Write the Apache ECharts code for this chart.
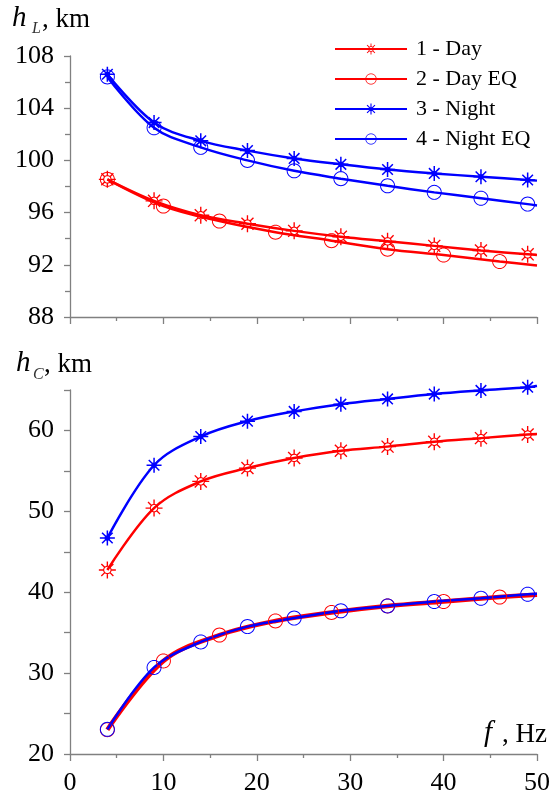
<!DOCTYPE html>
<html><head><meta charset="utf-8">
<script src="https://cdn.jsdelivr.net/npm/echarts@6/dist/echarts.min.js"></script>
<style>html,body{margin:0;padding:0;background:#fff}#c{width:560px;height:800px}</style>
</head><body><div id="c"></div>
<script>
// frequencies (Hz)
const freqStar = [4, 9, 14, 19, 24, 29, 34, 39, 44, 49];
const freqDayEQ = [4, 10, 16, 22, 28, 34, 40, 46];
const freqNightEQ = [4, 9, 14, 19, 24, 29, 34, 39, 44, 49];
const freqEnd = 50;

// top panel: h_L, km
const hL_day = [98.55, 96.9, 95.8, 95.15, 94.6, 94.15, 93.8, 93.45, 93.1, 92.8];
const hL_dayEnd = 92.75;
const hL_dayEQ = [98.55, 96.5, 95.35, 94.5, 93.85, 93.2, 92.75, 92.25];
const hL_dayEQEnd = 91.95;
const hL_night = [106.6, 102.9, 101.5, 100.75, 100.15, 99.7, 99.3, 99.0, 98.75, 98.5];
const hL_nightEnd = 98.45;
const hL_nightEQ = [106.4, 102.5, 101.0, 100.0, 99.2, 98.6, 98.05, 97.55, 97.1, 96.65];
const hL_nightEQEnd = 96.55;

// bottom panel: h_C, km
const hC_day = [42.75, 50.4, 53.7, 55.35, 56.6, 57.5, 58.0, 58.6, 59.05, 59.5];
const hC_dayEnd = 59.55;
const hC_dayEQ = [23.0, 31.5, 34.7, 36.45, 37.5, 38.3, 38.85, 39.4];
const hC_dayEQEnd = 39.7;
const hC_night = [46.7, 55.7, 59.25, 61.15, 62.35, 63.25, 63.9, 64.5, 64.95, 65.35];
const hC_nightEnd = 65.5;
const hC_nightEQ = [23.05, 30.7, 33.85, 35.75, 36.8, 37.7, 38.3, 38.85, 39.25, 39.75];
const hC_nightEQEnd = 39.8;

const seriesNames = ['1 - Day', '2 - Day EQ', '3 - Night', '4 - Night EQ'];
const xTickLabels = [0, 10, 20, 30, 40, 50];
const yTickLabelsTop = [88, 92, 96, 100, 104, 108];
const yTickLabelsBottom = [20, 30, 40, 50, 60];

// ---- symbol paths ----
function f2(v){ return (Math.round(v*100)/100).toString(); }
function ray(a, r1, r2, w){
  const ux=Math.cos(a), uy=Math.sin(a), nx=-uy, ny=ux;
  const p=[[r1*ux+w*nx, r1*uy+w*ny],[r2*ux+w*nx, r2*uy+w*ny],[r2*ux-w*nx, r2*uy-w*ny],[r1*ux-w*nx, r1*uy-w*ny]];
  return 'M'+p.map(q=>f2(q[0])+' '+f2(q[1])).join(' L')+' Z ';
}
function poly(r, n, dir){
  let s='';
  for(let i=0;i<n;i++){
    const a = dir*2*Math.PI*i/n;
    s += (i===0?'M':' L')+f2(r*Math.cos(a))+' '+f2(r*Math.sin(a));
  }
  return s+' Z ';
}
const angles = [0, Math.PI/4, Math.PI/2, 3*Math.PI/4, Math.PI, 5*Math.PI/4, 3*Math.PI/2, 7*Math.PI/4];
let dayStar = '';
angles.forEach(a=>{ dayStar += ray(a, 4.0, 10, 0.8); });
dayStar += poly(5.0, 28, -1) + poly(3.7, 28, 1);
let nightStar = '';
[0, Math.PI/4, Math.PI/2, 3*Math.PI/4].forEach(a=>{ nightStar += ray(a, -10, 10, 1.0); });
nightStar += poly(3.8, 24, -1);
const ring = poly(10, 36, -1) + poly(8.7, 36, 1);

const SYM_DAY = 'path://' + dayStar;
const SYM_NIGHT = 'path://' + nightStar;
const SYM_RING = 'path://' + ring;

function mk(xs, ys, endVal){
  const d = xs.map((x,i)=>[x, ys[i]]);
  d.push({value:[freqEnd, endVal], symbol:'none'});
  return d;
}

const RED = '#ff0000', BLUE = '#0000ff';
const FONT = 'Liberation Serif, Times New Roman, serif';
const AX = '#808080';

function line(name, xi, yi, data, color, sym, size, width){
  return {
    name, type:'line', xAxisIndex:xi, yAxisIndex:yi, data,
    smooth:0.35, clip:false,
    symbol:sym, symbolSize:size, showAllSymbol:true,
    lineStyle:{color, width}, itemStyle:{color},
    emphasis:{disabled:true}, animation:false
  };
}

function xAxis(gi, showLabels){
  return {
    gridIndex:gi, type:'value', min:0, max:50, interval:10,
    axisLine:{show:true, onZero:false, lineStyle:{color:AX, width:1.3}},
    axisTick:{show:true, length:7, lineStyle:{color:AX, width:1.3}},
    minorTick:{show:true, splitNumber:2, length:4, lineStyle:{color:AX, width:1.3}},
    splitLine:{show:false},
    axisLabel:{show:showLabels, fontFamily:FONT, fontSize:26, color:'#000', margin:16,
      formatter:v=> xTickLabels.includes(v) ? String(v) : ''}
  };
}

const chart = echarts.init(document.getElementById('c'), null, {renderer:'canvas'});
chart.setOption({
  animation:false,
  backgroundColor:'#fff',
  grid:[
    {left:70, right:23, top:56, height:261},
    {left:70, right:23, top:390, height:364}
  ],
  xAxis:[ xAxis(0,false), xAxis(1,true) ],
  yAxis:[
    {gridIndex:0, type:'value', min:88, max:108, interval:4,
     axisLine:{show:true, onZero:false, lineStyle:{color:AX, width:1.3}},
     axisTick:{show:true, length:6, lineStyle:{color:AX, width:1.3}},
     minorTick:{show:true, splitNumber:2, length:5, lineStyle:{color:AX, width:1.3}},
     splitLine:{show:false},
     axisLabel:{fontFamily:FONT, fontSize:26, color:'#000', margin:16,
       formatter:v=> yTickLabelsTop.includes(v) ? String(v) : ''}},
    {gridIndex:1, type:'value', min:20, max:65, interval:5,
     axisLine:{show:true, onZero:false, lineStyle:{color:AX, width:1.3}},
     axisTick:{show:true, length:6, lineStyle:{color:AX, width:1.3}},
     splitLine:{show:false},
     axisLabel:{fontFamily:FONT, fontSize:26, color:'#000', margin:16,
       formatter:v=> yTickLabelsBottom.includes(v) ? String(v) : ''}}
  ],
  legend:{
    orient:'vertical', left:329, top:33,
    itemWidth:72, itemHeight:14, itemGap:8,
    data:seriesNames,
    textStyle:{fontFamily:FONT, fontSize:22, color:'#000', padding:[0,0,0,4]}
  },
  graphic:[
    {type:'text', left:12, top:4, style:{text:'h', font:'italic 29px "Liberation Serif"', fill:'#000'}},
    {type:'text', left:32, top:21, style:{text:'L', font:'italic 16px "Liberation Serif"', fill:'#333'}},
    {type:'text', left:42, top:6, style:{text:', km', font:'27px "Liberation Serif"', fill:'#000'}},
    {type:'text', left:16, top:349, style:{text:'h', font:'italic 29px "Liberation Serif"', fill:'#000'}},
    {type:'text', left:33, top:367, style:{text:'C', font:'italic 16px "Liberation Serif"', fill:'#333'}},
    {type:'text', left:44, top:351, style:{text:', km', font:'27px "Liberation Serif"', fill:'#000'}},
    {type:'text', left:484, top:719, style:{text:'f', font:'italic 29px "Liberation Serif"', fill:'#000'}},
    {type:'text', left:502, top:721, style:{text:', Hz', font:'27px "Liberation Serif"', fill:'#000'}}
  ],
  series:[
    line(seriesNames[0], 0, 0, mk(freqStar, hL_day, hL_dayEnd), RED, SYM_DAY, 17, 2.5),
    line(seriesNames[1], 0, 0, mk(freqDayEQ, hL_dayEQ, hL_dayEQEnd), RED, SYM_RING, 15, 2.5),
    line(seriesNames[2], 0, 0, mk(freqStar, hL_night, hL_nightEnd), BLUE, SYM_NIGHT, 15, 2.5),
    line(seriesNames[3], 0, 0, mk(freqNightEQ, hL_nightEQ, hL_nightEQEnd), BLUE, SYM_RING, 15, 2.5),
    line(seriesNames[0], 1, 1, mk(freqStar, hC_day, hC_dayEnd), RED, SYM_DAY, 17, 2.5),
    line(seriesNames[1], 1, 1, mk(freqDayEQ, hC_dayEQ, hC_dayEQEnd), RED, SYM_RING, 15, 4.5),
    line(seriesNames[2], 1, 1, mk(freqStar, hC_night, hC_nightEnd), BLUE, SYM_NIGHT, 15, 2.5),
    line(seriesNames[3], 1, 1, mk(freqNightEQ, hC_nightEQ, hC_nightEQEnd), BLUE, SYM_RING, 15, 2.5)
  ]
});
</script>
</body></html>
